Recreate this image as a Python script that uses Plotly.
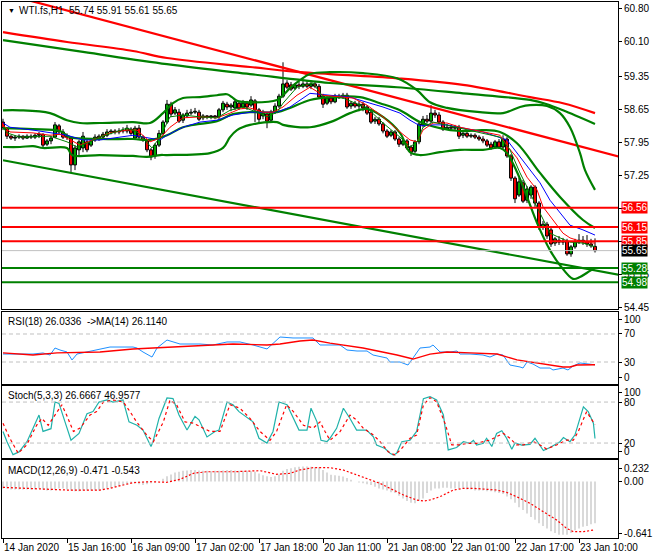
import plotly.graph_objects as go

FONT = "Liberation Sans"
W, H = 660, 560

# ---------------- data ----------------
bar_idx = list(range(149))
x_tick_bars = [0, 16, 32, 48, 64, 80, 96, 112, 128, 144]
x_tick_text = ["14 Jan 2020", "15 Jan 16:00", "16 Jan 09:00", "17 Jan 02:00", "17 Jan 18:00",
               "20 Jan 11:00", "21 Jan 08:00", "22 Jan 01:00", "22 Jan 17:00", "23 Jan 10:00"]

opens = [58.38,58.23,58.08,58.04,58.06,58.08,58.04,58.08,58.06,58.10,
         58.12,57.91,57.98,58.06,58.30,58.17,58.06,58.04,57.47,57.79,
         57.83,57.96,57.89,58.00,58.04,58.06,58.10,58.17,58.19,58.17,
         58.19,58.19,58.23,58.04,58.25,58.06,57.98,57.79,57.66,57.89,
         58.14,58.38,58.76,58.57,58.59,58.42,58.51,58.57,58.59,58.59,
         58.47,58.51,58.49,58.51,58.49,58.64,58.76,58.70,58.68,58.78,
         58.70,58.78,58.74,58.83,58.64,58.51,58.55,58.42,58.59,58.72,
         58.93,59.21,59.17,59.10,59.17,59.14,59.19,59.14,59.19,59.14,
         58.93,58.78,58.89,58.81,58.93,58.91,58.95,58.72,58.78,58.72,
         58.76,58.70,58.59,58.40,58.44,58.34,58.19,58.10,58.17,58.02,
         57.91,57.98,57.85,57.76,57.96,58.32,58.44,58.40,58.57,58.53,
         58.38,58.23,58.27,58.25,58.27,58.10,58.14,58.08,58.10,58.06,
         58.02,57.98,57.91,57.85,57.96,57.85,58.02,57.66,57.19,56.83,
         57.09,56.72,56.83,57.00,56.66,56.15,56.21,56.09,55.81,55.87,
         55.83,55.85,55.58,55.73,55.83,55.87,55.83,55.79,55.74]
highs = [58.45,58.27,58.10,58.10,58.12,58.10,58.12,58.12,58.14,58.17,
         58.14,58.02,58.08,58.38,58.34,58.23,58.14,58.08,57.89,58.00,
         58.17,58.00,58.02,58.12,58.12,58.17,58.23,58.23,58.23,58.25,
         58.27,58.32,58.27,58.30,58.32,58.10,58.02,57.83,57.93,58.21,
         58.42,58.85,58.81,58.70,58.66,58.57,58.64,58.66,58.68,58.64,
         58.55,58.53,58.53,58.53,58.68,58.83,58.81,58.78,58.87,58.83,
         58.85,58.83,58.93,58.87,58.68,58.64,58.59,58.64,58.78,58.98,
         59.65,59.27,59.23,59.21,59.23,59.25,59.25,59.23,59.23,59.19,
         58.98,58.93,58.93,58.98,58.98,59.00,59.00,58.83,58.83,58.83,
         58.81,58.74,58.64,58.49,58.49,58.38,58.23,58.21,58.21,58.06,
         58.02,58.02,57.89,58.00,58.40,58.51,58.53,58.74,58.64,58.59,
         58.42,58.34,58.32,58.32,58.32,58.19,58.19,58.14,58.14,58.10,
         58.08,58.02,57.96,58.00,58.02,58.10,58.06,57.70,57.23,57.19,
         57.15,57.02,57.04,57.04,56.70,56.28,56.26,56.15,55.94,55.96,
         55.92,55.90,55.77,55.90,56.00,55.96,55.98,55.90,55.91]
lows = [58.21,58.02,58.00,57.98,58.02,58.00,58.02,58.02,58.02,58.04,
        57.85,57.87,57.91,58.04,58.12,58.02,58.00,57.32,57.36,57.68,
        57.74,57.74,57.85,57.96,57.98,58.02,58.06,58.12,58.12,58.12,
        58.14,58.14,58.10,58.00,58.02,57.96,57.74,57.57,57.60,57.85,
        58.10,58.34,58.49,58.53,58.36,58.36,58.47,58.53,58.55,58.40,
        58.42,58.44,58.44,58.44,58.44,58.59,58.64,58.61,58.64,58.64,
        58.66,58.64,58.70,58.38,58.36,58.44,58.25,58.38,58.55,58.68,
        58.89,59.08,59.04,59.06,59.08,59.10,59.10,59.08,59.10,58.87,
        58.68,58.74,58.76,58.78,58.87,58.87,58.66,58.66,58.68,58.61,
        58.61,58.53,58.34,58.34,58.30,58.14,58.04,58.06,57.98,57.85,
        57.87,57.79,57.66,57.72,57.91,58.27,58.36,58.36,58.47,58.34,
        58.19,58.21,58.21,58.19,58.02,58.04,58.04,58.04,58.02,57.98,
        57.93,57.85,57.79,57.81,57.81,57.81,57.62,57.13,56.66,56.79,
        56.66,56.66,56.75,56.58,56.09,56.09,55.90,55.73,55.75,55.77,
        55.77,55.54,55.52,55.69,55.79,55.77,55.73,55.71,55.61]
closes = [58.26,58.08,58.04,58.06,58.08,58.04,58.08,58.06,58.10,58.12,
          57.89,57.98,58.04,58.32,58.17,58.06,58.08,57.47,57.83,57.96,
          58.08,57.79,57.98,58.06,58.08,58.12,58.17,58.19,58.17,58.19,
          58.21,58.25,58.14,58.25,58.06,58.00,57.79,57.64,57.89,58.14,
          58.38,58.76,58.55,58.64,58.40,58.53,58.57,58.59,58.61,58.44,
          58.51,58.49,58.51,58.49,58.64,58.78,58.70,58.74,58.81,58.68,
          58.78,58.70,58.85,58.64,58.44,58.57,58.40,58.59,58.72,58.93,
          59.19,59.12,59.08,59.17,59.14,59.19,59.14,59.19,59.14,58.91,
          58.76,58.89,58.81,58.93,58.91,58.95,58.70,58.78,58.72,58.76,
          58.68,58.57,58.38,58.44,58.34,58.19,58.08,58.17,58.02,57.91,
          57.98,57.83,57.74,57.96,58.34,58.44,58.40,58.57,58.53,58.38,
          58.23,58.27,58.25,58.27,58.08,58.14,58.08,58.10,58.06,58.02,
          57.98,57.89,57.83,57.96,57.85,58.02,57.66,57.19,56.75,57.11,
          56.70,56.96,57.00,56.66,56.15,56.21,55.96,55.79,55.90,55.83,
          55.85,55.58,55.73,55.83,55.87,55.83,55.79,55.75,55.65]

# Bollinger bands (thick green)
bb_up_x = [0,4.25,11.75,16,19.25,24.25,32.5,36.75,40,42.5,45,49.25,53.5,56,57.25,58.5,61.75,68.5,70,71.75,
           74.25,76.75,81.75,90,98.5,103.5,106.75,111,119.25,125,129.25,131.75,136,139.25,141.75,144.25,145.5,148]
bb_up_y = [58.63,58.63,58.57,58.42,58.36,58.36,58.38,58.36,58.57,58.78,58.89,58.91,58.95,58.97,58.91,58.83,58.80,58.85,58.95,59.10,
           59.27,59.40,59.44,59.42,59.31,59.06,58.80,58.68,58.59,58.57,58.70,58.74,58.72,58.57,58.27,57.72,57.36,56.94]
bb_mid_x = [0,7.5,14.25,16.75,24.25,32.5,36.75,41,45,49.25,53.5,57.5,61.75,68.5,71.75,76.75,81.75,89.25,94.25,99.25,
            104.25,109.25,114.25,120,124.25,128.5,134.25,139.25,145,148]
bb_mid_y = [58.25,58.23,58.19,58.06,58.02,58.02,58.00,58.10,58.27,58.34,58.40,58.55,58.59,58.59,58.68,58.85,58.91,58.91,58.78,58.63,
            58.38,58.25,58.19,58.21,58.17,57.93,57.30,56.79,56.30,56.13]
bb_low_x = [0,4.25,7.5,10,16,17.25,24.25,32.5,36,39.25,41,51.75,55,56.75,58.5,61.75,68.5,70,76.75,82.5,
            86.75,91,95,99.25,101.75,104.25,109.25,114.25,120,124.25,126,128.5,131,133.5,136.75,139.25,142.5,144.25,146.75,148]
bb_low_y = [57.85,57.85,57.87,57.83,57.83,57.68,57.68,57.66,57.64,57.68,57.68,57.72,57.83,58.06,58.21,58.32,58.38,58.32,58.27,58.40,
            58.57,58.66,58.49,58.15,57.74,57.68,57.74,57.79,57.79,57.83,57.72,57.32,56.79,56.24,55.66,55.34,55.05,55.09,55.22,55.28]

# slow averages (thick)
slow_red_x = [0,16,32.5,41,61.75,74.25,81.75,98.5,115,131.75,140,148]
slow_red_y = [60.29,60.08,59.89,59.74,59.55,59.44,59.40,59.31,59.17,58.91,58.78,58.57]
slow_green_x = [0,20,41,61.75,81.75,98.5,115,131.75,136,140,148]
slow_green_y = [60.12,59.87,59.61,59.40,59.21,59.12,58.99,58.85,58.76,58.63,58.34]

# trend lines
trend_red_x = [0, 154.25]
trend_red_y = [61.11, 57.64]
trend_green_x = [0, 154.25]
trend_green_y = [57.57, 55.13]

# thin moving averages
ma_blue_x = [0,1.75,7.5,11.75,16,20,24.25,32.5,36,39.25,41,45,49.25,53.5,57.5,61.75,68.5,71.75,76.75,82.5,
             86.75,91,95,99.25,101.75,104.25,107.5,111,114.25,120,126,128.5,131.75,134.25,136.75,139.25,141.75,145,148]
ma_blue_y = [58.36,58.27,58.21,58.15,58.10,58.00,58.00,58.10,58.04,58.00,58.10,58.27,58.38,58.42,58.53,58.59,58.59,58.70,58.99,58.95,
             58.91,58.80,58.70,58.57,58.42,58.30,58.32,58.32,58.27,58.17,58.00,57.72,57.36,57.09,56.72,56.45,56.19,56.09,55.98]
ma_red_x = [0,1.75,7.5,11.75,14.25,16.75,19.25,22.5,26.75,31,33.5,36.75,39.25,41.75,45,49.25,53.5,56.75,59.25,61.75,
            65,67.5,70,73.5,76.75,80,85,87.5,91,95,99.25,101.75,103.5,105,107.5,111,114.25,124.25,126.25,128.5,
            131,133.5,135,137.5,140,141.75,145,148]
ma_red_y = [58.32,58.17,58.15,58.10,58.12,58.00,57.89,58.00,58.15,58.21,58.21,57.96,58.04,58.27,58.47,58.49,58.47,58.57,58.66,58.68,
            58.59,58.59,58.70,58.95,59.12,58.95,58.91,58.89,58.74,58.49,58.17,58.00,57.96,58.21,58.36,58.36,58.27,58.10,57.85,57.62,
            57.21,56.94,56.58,56.30,56.02,55.92,55.83,55.81]
ma_green_x = [0,1,4.25,11.75,16,18.5,21,24.25,31,33.5,37.25,39.25,41.75,45,49.25,53.5,56.75,60,63.5,66,
              68.5,70,73.5,77.5,80,85,91,95,99.25,101.75,103.5,105,107.5,111,114.25,124.25,126.75,129.25,131.75,134.25,
              136.75,139.25,141.75,145,148]
ma_green_y = [58.27,58.15,58.06,58.08,57.96,57.85,57.93,58.06,58.25,58.17,57.83,58.06,58.49,58.53,58.49,58.47,58.63,58.70,58.59,58.49,
              58.59,58.78,59.12,59.21,58.91,58.89,58.68,58.36,58.06,57.85,57.96,58.27,58.38,58.32,58.25,58.06,57.79,57.30,56.87,56.45,
              56.02,55.92,55.83,55.81,55.73]

# horizontal levels
levels_red = [56.56, 56.15, 55.85]
level_last = [55.65]
levels_green = [55.28, 54.98]
main_ticks = [60.80, 60.10, 59.35, 58.65, 57.95, 57.25, 56.55, 55.85, 55.15, 54.45]
main_tick_text = ["60.80", "60.10", "59.35", "58.65", "57.95", "57.25", "", "", "55.15", "54.45"]

# RSI
rsi_x = [0,3.5,7.5,10,11.75,13,14.25,16,17.25,18.5,21,24.25,26.75,30,32.5,33.5,35,37.25,38.5,41,
         44.25,49.25,52.5,56,59.25,62.5,66,69.25,72.5,77.5,79.25,81.75,84.25,86,88.5,91,92.5,96,96.75,99.25,
         101.25,102.5,104.25,106.75,107.5,109.25,111.75,113.5,114.25,116.75,120,121.75,123.5,125,126.75,129.25,130,131,132.5,134.25,
         136.75,137.5,140,141.25,142.5,144.25,147.5,148]
rsi_y = [41.4,41.4,41.4,42.9,40,50,47.1,44.3,32.9,41.4,44.3,48.6,51.4,51.4,51.4,50,44.3,37.1,50,61.4,
         55.7,55.7,54.3,58.6,58.6,54.3,48.6,65.7,64.3,64.3,54.3,54.3,54.3,47.1,45.7,45.7,40,35.7,30,30,
         25.7,35.7,50,51.4,54.3,44.3,44.3,45.7,41.4,41.4,40,37.1,41.4,40,25.7,22.9,21.4,30,27.1,21.4,
         21.4,18.6,21.4,18.6,24.3,28.6,27.1,26.03]
rsi_ma_x = [0,7.5,13.5,24.25,32.5,37.5,42.5,49.25,57.5,66,69.25,74.25,77.5,81.75,90,98.5,102.5,106.75,111,116.75,
            123.5,128.5,131.75,136,140,141.75,143.5,148]
rsi_ma_y = [42.9,40,42.9,44.3,48.6,50,51.4,54.3,55.7,54.3,55.7,60,61.4,57.1,50,40,34.3,41.4,44.3,42.9,
            41.4,32.9,30,25.7,22.9,22.9,25.7,26.11]
rsi_levels = [70, 30]
rsi_tick_vals = [91.4, 70, 30, 8.6]
rsi_tick_text = ["100", "70", "30", "0"]

# Stochastic
stoch_k_x = [0,1,2.5,4,6,7.5,9,10,12,13,14,15.5,17,19,21,22.5,24,26,27.5,30,
             31.5,33.5,35,37,37.5,39,41,42.5,44,46,48,49,51,53,54,56,57.5,59,62.5,64,
             66,67.5,69,71,74,76,77,78.5,79.5,81,81.75,83.4,85.1,86.75,88.4,90.9,92.6,93.4,95.5,96.75,
             97.6,98.4,99.7,101.75,103.4,105.1,106.75,108.4,110.1,111.3,113.4,115.1,116.75,117.6,118.4,120.1,120.9,122.2,123.4,124.7,
             125.9,127.2,128,129.7,131.75,133,135.1,136.75,139.25,140.1,141.75,143,145.1,146.3,147.6,148]
stoch_k_y = [37,22,3,7,22,41,61,37,41,80,78,51,24,34,63,66,80,83,80,83,
             51,46,39,15,22,56,86,85,61,39,59,54,29,37,39,80,76,66,51,27,
             20,37,80,76,39,39,71,51,24,22,27,41.5,71,56,39,39,29,17,12,5,
             2.5,5,22,24,37,85,88,83,61,10,13.5,22,19.6,24,17,19.6,27,15,34,38,
             27,11,20,17,18,27,9,13.5,22,28,22,32,73,66,49,26.67]
stoch_d_x = [0,1.7,3.8,5.9,8.4,9.7,11.3,13,14.7,15.9,17.6,19.3,21.75,23.4,25.1,27.6,30.1,31.75,33.4,35.9,
             37.6,40.1,41.75,43.4,45.5,47.6,50.1,51.75,54.25,56.75,59.25,61.75,64.25,66.75,68.4,70.9,72.6,75.1,77.6,79.25,
             80.5,81.75,84.25,86.75,88.4,90.1,92.6,94.25,96.3,98,99.7,101.75,103.4,105.1,106.75,108.4,110.5,112.2,114.25,115.9,
             118.4,120.1,121.75,123.4,125.1,126.75,128.4,130.1,132.6,134.25,135.9,138.4,140.9,142.6,143.8,145.9,147.6,148]
stoch_d_y = [49,27,5,17,46,56,46,61,76,61,37,42,61,66,80,83,80,66,51,32,
             22,51,83,76,51,49,42,37,37,76,71,56,37,24,37,76,66,46,42,51,
             37,24,36.6,61,53.7,41.5,31.7,22,7.3,2.5,12.3,26.9,31.7,75.7,86.4,80.5,48.8,17.2,17.2,19.6,
             19.6,22,24.4,29.3,34.2,26.9,17.2,17.2,22,17.2,11.3,17.2,24.4,24.4,36.6,65.9,51.2,46.96]
stoch_levels = [80, 20]
stoch_tick_vals = [93.3, 80, 20, 6.9]
stoch_tick_text = ["100", "80", "20", "0"]

# MACD
macd_hist = [-0.08,-0.08,-0.09,-0.09,-0.09,-0.09,-0.09,-0.09,-0.09,-0.08,
             -0.09,-0.10,-0.10,-0.09,-0.08,-0.08,-0.09,-0.10,-0.11,-0.11,
             -0.10,-0.10,-0.10,-0.10,-0.10,-0.09,-0.08,-0.07,-0.06,-0.05,
             -0.04,-0.03,-0.02,-0.02,-0.03,-0.04,-0.03,-0.02,-0.01,0.00,
             0.03,0.06,0.08,0.10,0.11,0.12,0.125,0.13,0.13,0.125,
             0.12,0.12,0.115,0.12,0.12,0.125,0.13,0.13,0.125,0.12,
             0.12,0.12,0.115,0.11,0.09,0.07,0.06,0.05,0.06,0.08,
             0.12,0.14,0.15,0.16,0.165,0.17,0.17,0.165,0.16,0.16,
             0.13,0.10,0.075,0.07,0.065,0.055,0.04,0.02,0.00,-0.01,
             -0.02,-0.03,-0.04,-0.06,-0.08,-0.09,-0.10,-0.12,-0.13,-0.16,
             -0.19,-0.22,-0.24,-0.245,-0.22,-0.19,-0.13,-0.10,-0.08,-0.08,
             -0.07,-0.07,-0.08,-0.08,-0.08,-0.08,-0.09,-0.09,-0.10,-0.10,
             -0.10,-0.11,-0.11,-0.12,-0.13,-0.14,-0.17,-0.20,-0.24,-0.29,
             -0.32,-0.36,-0.40,-0.43,-0.47,-0.50,-0.53,-0.56,-0.58,-0.60,
             -0.60,-0.60,-0.58,-0.55,-0.53,-0.51,-0.50,-0.48,-0.471]
macd_sig_x = [0,7.6,15.9,24.25,26.75,30.1,32.6,36.75,40.9,44.25,47.6,50.9,57.6,64.25,68.4,71.75,74.25,77.6,81.75,
              85.1,88.4,91.75,94.25,96.75,100.1,103.4,105.1,106.75,109.25,112.6,115.1,117.6,120.9,123.4,125.9,128.4,
              131.75,135.1,138.4,140.9,142.6,145.1,147.6,148]
macd_sig_y = [-0.066,-0.077,-0.096,-0.096,-0.077,-0.039,-0.013,-0.002,-0.009,0.024,0.092,0.11,0.11,0.122,0.081,0.092,0.13,0.156,0.155,
              0.129,0.073,0.017,-0.021,-0.077,-0.152,-0.208,-0.22,-0.208,-0.171,-0.096,-0.077,-0.077,-0.084,-0.096,-0.122,-0.171,
              -0.246,-0.34,-0.433,-0.527,-0.565,-0.565,-0.546,-0.543]
macd_tick_vals = [0.152, 0.0, -0.58]
macd_tick_text = ["0.232", "0.00", "-0.641"]

# ---------------- figure ----------------
GREEN = "#008000"
RED = "#ff0000"
fig = go.Figure()

def line(x, y, color, width, ax="", dash=None, shape="linear"):
    fig.add_trace(go.Scatter(x=x, y=y, mode="lines",
                             line=dict(color=color, width=width, dash=dash, shape=shape),
                             xaxis="x" + ax, yaxis="y" + ax, hoverinfo="skip", showlegend=False,
                             cliponaxis=True))

# candles: wicks (outside body) and bodies
wx, wy = [], []
for i, o, h, l, c in zip(bar_idx, opens, highs, lows, closes):
    top, bot = max(o, c), min(o, c)
    wx += [i, i, None, i, i, None]
    wy += [top, h, None, l, bot, None]
fig.add_trace(go.Scatter(x=wx, y=wy, mode="lines", line=dict(color="black", width=1),
                         hoverinfo="skip", showlegend=False))
body_base = [min(o, c) for o, c in zip(opens, closes)]
body_h = [max(abs(c - o), 0.008) for o, c in zip(opens, closes)]
body_col = ["#00b000" if c > o else RED for o, c in zip(opens, closes)]
fig.add_trace(go.Bar(x=bar_idx, y=body_h, base=body_base, width=0.72,
                     marker=dict(color=body_col, line=dict(color="black", width=1)),
                     hoverinfo="skip", showlegend=False))

# overlays
line(trend_red_x, trend_red_y, RED, 2.2)
line(trend_green_x, trend_green_y, GREEN, 2.2)
line(slow_red_x, slow_red_y, RED, 2.2, shape="spline")
line(slow_green_x, slow_green_y, GREEN, 2.2, shape="spline")
line(bb_up_x, bb_up_y, GREEN, 2.2, shape="spline")
line(bb_mid_x, bb_mid_y, GREEN, 2.2, shape="spline")
line(bb_low_x, bb_low_y, GREEN, 2.2, shape="spline")
line(ma_blue_x, ma_blue_y, "#0000ff", 1)
line(ma_red_x, ma_red_y, RED, 1)
line(ma_green_x, ma_green_y, GREEN, 1)

# RSI
line(rsi_x, rsi_y, "#1e90ff", 1, ax="2")
line(rsi_ma_x, rsi_ma_y, RED, 1.3, ax="2")
# Stoch
line(stoch_k_x, stoch_k_y, "#20b2aa", 1.2, ax="3")
line(stoch_d_x, stoch_d_y, RED, 1.2, ax="3", dash="3px,3px")
# MACD
fig.add_trace(go.Bar(x=bar_idx, y=macd_hist, width=0.3, marker=dict(color="#c0c0c0", line=dict(width=0)),
                     xaxis="x4", yaxis="y4", hoverinfo="skip", showlegend=False))
line(macd_sig_x, macd_sig_y, RED, 1.2, ax="4", dash="2px,2px")

# horizontal level lines
shapes = []
def hline(v, color, width, ax="", dash=None):
    shapes.append(dict(type="line", xref=("x" + ax + " domain") if ax else "x domain", yref="y" + ax,
                       x0=0, x1=1, y0=v, y1=v, line=dict(color=color, width=width, dash=dash), layer="above"))
for v in levels_red:
    hline(v, RED, 2)
for v in level_last:
    hline(v, "#c0c0c0", 1)
for v in levels_green:
    hline(v, GREEN, 2)
for v in rsi_levels:
    hline(v, "#c0c0c0", 1, ax="2", dash="4px,3px")
for v in stoch_levels:
    hline(v, "#c0c0c0", 1, ax="3", dash="4px,3px")

# layout / axes
X0, X1 = 2 / W, 618 / W
def ydom(top, bot):
    return [1 - bot / H, 1 - top / H]

xr = [-0.25, 153.75]
axis_common = dict(showline=True, linecolor="black", linewidth=1, mirror=True, showgrid=False,
                   zeroline=False, ticks="", showticklabels=False, range=xr, domain=[X0, X1],
                   automargin=False)
tickfont = dict(family=FONT, size=10, color="black")
yax_common = dict(showline=True, linecolor="black", linewidth=1, mirror=True, showgrid=False, zeroline=False,
                  side="right", ticks="outside", ticklen=3, tickcolor="black", tickfont=tickfont, tickmode="array",
                  automargin=False)

annotations = []
def label(v, bg):
    annotations.append(dict(x=621 / W, xref="paper", y=v, yref="y", xanchor="left", yanchor="middle",
                            text="%.2f" % v, showarrow=False, bgcolor=bg, borderpad=0,
                            font=dict(family=FONT, size=10, color="white")))
for v in levels_red:
    label(v, RED)
for v in level_last:
    label(v, "black")
for v in levels_green:
    label(v, GREEN)

def ptext(txt, x, y, size=10):
    annotations.append(dict(x=x / W, xref="paper", y=1 - y / H, yref="paper", xanchor="left", yanchor="middle",
                            text=txt, showarrow=False, font=dict(family=FONT, size=size, color="black")))
ptext("\u25bc", 6, 10, 7)
ptext("WTI.fs,H1\u00a0\u00a055.74 55.91 55.61 55.65", 17, 10)
ptext("RSI(18) 26.0336\u00a0\u00a0->MA(14) 26.1140", 6, 321)
ptext("Stoch(5,3,3) 26.6667 46.9577", 6, 395)
ptext("MACD(12,26,9) -0.471 -0.543", 6, 470)

fig.update_layout(
    width=W, height=H, margin=dict(l=0, r=0, t=0, b=0, autoexpand=False),
    paper_bgcolor="white", plot_bgcolor="white", showlegend=False, barmode="overlay",
    font=dict(family=FONT, size=10, color="black"),
    xaxis=dict(axis_common, anchor="y"),
    xaxis2=dict(axis_common, anchor="y2", matches="x"),
    xaxis3=dict(axis_common, anchor="y3", matches="x"),
    xaxis4=dict(axis_common, anchor="y4", matches="x", showticklabels=True, ticks="outside", ticklen=4,
                tickcolor="black", tickmode="array", tickvals=x_tick_bars, ticktext=x_tick_text,
                tickfont=tickfont, ticklabelposition="outside right", tickangle=0),
    yaxis=dict(yax_common, domain=ydom(2, 309), range=[54.41, 60.93], anchor="x",
               tickvals=main_ticks, ticktext=main_tick_text),
    yaxis2=dict(yax_common, domain=ydom(312, 384), range=[-1.4, 101.4], anchor="x2",
                tickvals=rsi_tick_vals, ticktext=rsi_tick_text),
    yaxis3=dict(yax_common, domain=ydom(386, 458), range=[-1.9, 103.5], anchor="x3",
                tickvals=stoch_tick_vals, ticktext=stoch_tick_text),
    yaxis4=dict(yax_common, domain=ydom(460, 538), range=[-0.636, 0.242], anchor="x4",
                tickvals=macd_tick_vals, ticktext=macd_tick_text),
    shapes=shapes, annotations=annotations,
)

fig.write_html("out.html", config={"displayModeBar": False, "staticPlot": True},
               post_script="document.body.style.margin='0px';document.body.style.overflow='hidden';")
